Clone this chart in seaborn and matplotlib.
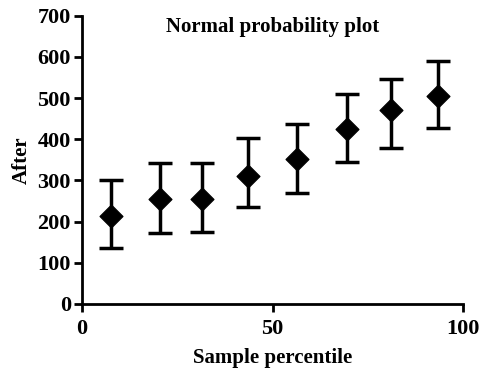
import matplotlib
matplotlib.use('Agg')
import matplotlib.pyplot as plt
import seaborn as sns
import numpy as np
import pandas as pd

# values
percentile = [7.5, 20.5, 31.5, 43.5, 56.5, 69.5, 81, 93.5]
after = [214, 255, 255, 311, 352, 426, 470, 506]
err_low = [135, 173, 175, 235, 269, 344, 380, 427]
err_high = [301, 342, 342, 402, 438, 511, 547, 591]

df = pd.DataFrame({"Sample percentile": percentile, "After": after})

sns.set_style("ticks")
plt.rcParams['font.family'] = ['Liberation Serif', 'DejaVu Serif']
plt.rcParams['font.weight'] = 'bold'
plt.rcParams['text.color'] = 'black'
plt.rcParams['axes.labelcolor'] = 'black'
plt.rcParams['xtick.color'] = 'black'
plt.rcParams['ytick.color'] = 'black'
plt.rcParams['axes.edgecolor'] = 'black'

fig = plt.figure(figsize=(4.82, 3.68), dpi=100)
ax = fig.add_axes([0.170, 0.174, 0.791, 0.783])

yerr = [np.array(after) - np.array(err_low), np.array(err_high) - np.array(after)]
ax.errorbar(percentile, after, yerr=yerr, fmt='none', ecolor='black',
            elinewidth=2.5, capsize=8.5, capthick=2.5, zorder=2)
sns.scatterplot(data=df, x="Sample percentile", y="After", marker='D', s=135,
                color='black', edgecolor='black', ax=ax, zorder=3)

ax.set_xlim(0, 100)
ax.set_ylim(0, 700)
ax.set_xticks([0, 50, 100])
ax.set_yticks(range(0, 701, 100))
ax.tick_params(axis='both', width=2, length=6, labelsize=16, pad=2)
ax.tick_params(axis='x', pad=5)
for lbl in ax.get_xticklabels() + ax.get_yticklabels():
    lbl.set_fontweight('bold')
ax.set_xlabel("Sample percentile", fontsize=15, fontweight='bold', labelpad=6)
ax.set_ylabel("After", fontsize=15, fontweight='bold', labelpad=4)
ax.text(50, 672, "Normal probability plot", ha='center', va='center',
        fontsize=15, fontweight='bold')

sns.despine(ax=ax)
for side in ['left', 'bottom']:
    ax.spines[side].set_linewidth(2)

fig.savefig("out.png", dpi=100)
